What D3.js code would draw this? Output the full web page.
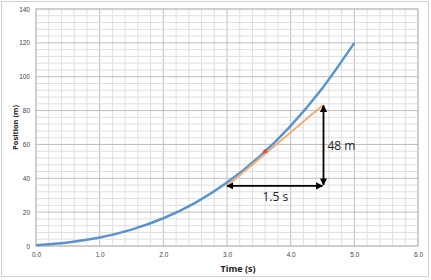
<!DOCTYPE html>
<html><head><meta charset="utf-8">
<script src="https://cdn.jsdelivr.net/npm/d3@7"></script>
<style>body{margin:0;background:#fff}svg{display:block}</style>
</head><body>
<script>
// data
const times = [0, 0.5, 1.0, 1.5, 2.0, 2.5, 3.0, 3.5, 4.0, 4.5, 5.0];
const positions = [0.5, 2.1, 5.0, 9.7, 16.4, 25.5, 37.5, 52.5, 71.0, 93.4, 120];
const tangentT = [3.0, 4.5];
const tangentX = [35.5, 83];
const pointT = [3.6];
const pointX = [56];
const xTicks = [0, 1, 2, 3, 4, 5, 6];
const yTicks = [0, 20, 40, 60, 80, 100, 120, 140];
const runLabel = "1.5 s";
const riseLabel = "48 m";

const W = 431, H = 280;
const m = {l: 36, r: 13, t: 9, b: 34};
const svg = d3.select("body").append("svg").attr("width", W).attr("height", H);
svg.append("rect").attr("x", 1.5).attr("y", 1.5).attr("width", W - 4).attr("height", H - 5)
  .attr("fill", "#fff").attr("stroke", "#d0d0d0");

const x = d3.scaleLinear().domain([0, 6]).range([m.l, W - m.r]);
const y = d3.scaleLinear().domain([0, 140]).range([H - m.b, m.t]);

const g = svg.append("g");
// minor grid
g.selectAll(".vx").data(d3.range(0, 6.001, 0.2)).join("line")
  .attr("x1", d => x(d)).attr("x2", d => x(d)).attr("y1", y(0)).attr("y2", y(140))
  .attr("stroke", d => Math.abs(d - Math.round(d)) < 1e-6 ? "#bdbdbd" : "#dedede").attr("stroke-width", 1);
g.selectAll(".hy").data(d3.range(0, 140.001, 4)).join("line")
  .attr("y1", d => y(d)).attr("y2", d => y(d)).attr("x1", x(0)).attr("x2", x(6))
  .attr("stroke", d => d % 20 === 0 ? "#bdbdbd" : "#dedede").attr("stroke-width", 1);
g.append("rect").attr("x", x(0)).attr("y", y(140)).attr("width", x(6) - x(0)).attr("height", y(0) - y(140))
  .attr("fill", "none").attr("stroke", "#bdbdbd");

// axes labels
const xa = svg.append("g").attr("transform", `translate(0,${y(0)})`)
  .call(d3.axisBottom(x).tickValues(xTicks).tickFormat(d3.format(".1f")).tickSize(0).tickPadding(6));
const ya = svg.append("g").attr("transform", `translate(${x(0)},0)`)
  .call(d3.axisLeft(y).tickValues(yTicks).tickSize(0).tickPadding(6));
[xa, ya].forEach(a => {
  a.select(".domain").remove();
  a.selectAll("text").attr("font-family", "Liberation Sans, Arial, sans-serif").attr("font-size", 6.5).attr("fill", "#444");
});

svg.append("text").attr("x", 238).attr("y", 272).attr("text-anchor", "middle")
  .attr("font-family", "Open Sans, sans-serif").attr("font-weight", "bold").attr("font-size", 9).attr("fill", "#222").text("Time (s)");
svg.append("text").attr("transform", `translate(18,${(y(0) + y(140)) / 2}) rotate(-90)`).attr("text-anchor", "middle")
  .attr("font-family", "Open Sans, sans-serif").attr("font-weight", "bold").attr("font-size", 7.5).attr("fill", "#222").text("Position (m)");

// curve
const line = d3.line().x(d => x(d[0])).y(d => y(d[1])).curve(d3.curveMonotoneX);
svg.append("path").datum(times.map((t, i) => [t, positions[i]])).attr("d", line)
  .attr("fill", "none").attr("stroke", "#5b93cf").attr("stroke-width", 2.5);

// tangent
svg.append("path").datum(tangentT.map((t, i) => [t, tangentX[i]])).attr("d", d3.line().x(d => x(d[0])).y(d => y(d[1])))
  .attr("stroke", "#f2ad74").attr("stroke-width", 2);
svg.selectAll(".pt").data(pointT.map((t, i) => [t, pointX[i]])).join("circle")
  .attr("cx", d => x(d[0])).attr("cy", d => y(d[1])).attr("r", 2).attr("fill", "#e8412f");

// arrows
const defs = svg.append("defs");
defs.append("marker").attr("id", "ah").attr("viewBox", "0 0 10 10").attr("refX", 9).attr("refY", 5)
  .attr("markerWidth", 4).attr("markerHeight", 4).attr("orient", "auto-start-reverse")
  .append("path").attr("d", "M0,0 L10,5 L0,10 Z").attr("fill", "#000");
const x0 = x(tangentT[0]), x1 = x(tangentT[1]) + 1, yb = y(tangentX[0]), yt = y(tangentX[1]);
svg.append("line").attr("x1", x0).attr("x2", x1 - 1).attr("y1", yb).attr("y2", yb)
  .attr("stroke", "#000").attr("stroke-width", 1.8).attr("marker-start", "url(#ah)").attr("marker-end", "url(#ah)");
svg.append("line").attr("x1", x1).attr("x2", x1).attr("y1", yb - 1).attr("y2", yt)
  .attr("stroke", "#000").attr("stroke-width", 1.8).attr("marker-start", "url(#ah)").attr("marker-end", "url(#ah)");

svg.append("text").attr("x", (x0 + x1) / 2).attr("y", yb + 15).attr("text-anchor", "middle")
  .attr("font-family", "Open Sans, sans-serif").attr("font-size", 12).attr("fill", "#222").text(runLabel);
svg.append("text").attr("x", x1 + 4).attr("y", (yb + yt) / 2 + 4)
  .attr("font-family", "Open Sans, sans-serif").attr("font-size", 12).attr("fill", "#222").text(riseLabel);
</script>
</body></html>
